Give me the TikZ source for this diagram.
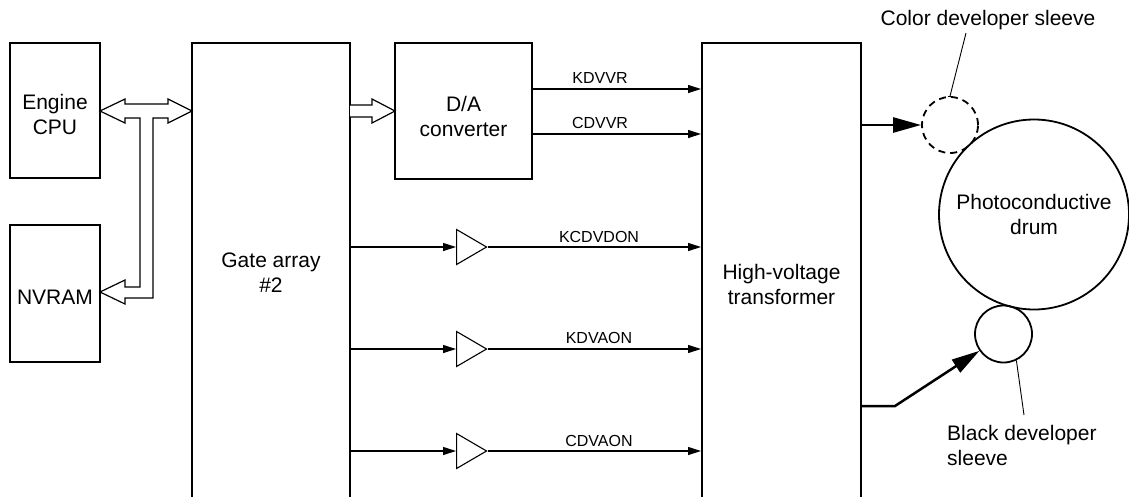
\documentclass[tikz,border=0pt]{standalone}
\usepackage{fontspec}
\setmainfont{Liberation Sans}
\usetikzlibrary{arrows.meta,shapes.geometric}
\begin{document}
\begin{tikzpicture}[x=1pt,y=-1pt,
 box/.style={draw, line width=2pt, rectangle, inner sep=0pt},
 lbl/.style={font=\fontsize{21}{25}\selectfont, inner sep=0pt, align=center},
 sig/.style={line width=1.1pt, -{Triangle[length=13pt,width=8pt]}},
 siglabel/.style={font=\fontsize{16}{19}\selectfont, inner sep=0pt},
 buf/.style={draw, line width=1.1pt, isosceles triangle, isosceles triangle stretches, shape border rotate=0, minimum width=35pt, minimum height=30pt, inner sep=0pt},
 big/.style={line width=2.5pt, -{Triangle[length=28pt,width=15pt]}},
 hollow/.style={draw, line width=1.2pt, fill=white, line join=miter},
 leader/.style={line width=0.9pt},
 ring/.style={draw, circle, line width=1.8pt, inner sep=0pt}]
\useasboundingbox (0,0) rectangle (1129,496);

% boxes
\node[box, minimum width=90pt, minimum height=135pt] (cpu) at (55,110.5) {};
\node[lbl] (cput) at (55,114.5) {Engine\\CPU};
\node[box, minimum width=90pt, minimum height=137pt] (nvram) at (55,293.5) {};
\node[lbl] (nvramt) at (55,297) {NVRAM};
\node[box, minimum width=158pt, minimum height=457pt] (gate) at (271,271.5) {};
\node[lbl] (gatet) at (271,272.5) {Gate array\\\#2};
\node[box, minimum width=137pt, minimum height=136pt] (da) at (463.5,111) {};
\node[lbl] (dat) at (463.5,116) {D/A\\converter};
\node[box, minimum width=159pt, minimum height=457pt] (hv) at (781.5,271.5) {};
\node[lbl] (hvt) at (781.5,284.5) {High-voltage\\transformer};

% hollow buses
\draw[hollow] (100,111) -- (125,99) -- (125,104) -- (168,104) -- (168,99) -- (192,111) -- (168,123) -- (168,118) -- (153,118) -- (153,298) -- (125,298) -- (125,304) -- (100,292) -- (125,280) -- (125,287) -- (140,287) -- (140,118) -- (125,118) -- (125,123) -- cycle;
\draw[hollow] (350,105) -- (372,105) -- (372,99) -- (395,111) -- (372,123) -- (372,117) -- (350,117);

% D/A outputs
\coordinate (s1) at (532,89);
\coordinate (s2) at (532,134);
\draw[sig] (s1) -- (hv.west |- s1);
\draw[sig] (s2) -- (hv.west |- s2);
\node[siglabel] (l1) at (600,78) {KDVVR};
\node[siglabel] (l2) at (600,123) {CDVVR};

% buffers
\node[buf, anchor=lower side] (b1) at (456,247) {};
\node[buf, anchor=lower side] (b2) at (456,349) {};
\node[buf, anchor=lower side] (b3) at (456,451) {};
\draw[sig] (gate.east |- b1.lower side) -- (b1.lower side);
\draw[sig] (gate.east |- b2.lower side) -- (b2.lower side);
\draw[sig] (gate.east |- b3.lower side) -- (b3.lower side);
\draw[sig] (b1.apex) -- (hv.west |- b1.apex);
\draw[sig] (b2.apex) -- (hv.west |- b2.apex);
\draw[sig] (b3.apex) -- (hv.west |- b3.apex);
\node[siglabel] (l3) at (599,237) {KCDVDON};
\node[siglabel] (l4) at (599,338) {KDVAON};
\node[siglabel] (l5) at (599,441) {CDVAON};

% drum and sleeves
\node[ring, minimum size=190pt, lbl] (drum) at (1034,214.5) {Photoconductive\\drum};
\node[ring, dashed, dash pattern=on 7pt off 5pt, minimum size=56pt] (cs) at (950,125) {};
\node[ring, minimum size=57pt] (bs) at (1003.5,334) {};

\draw[big] (hv.east |- cs.west) -- (cs.west);
\coordinate (bend) at (895,406);
\draw[big] (hv.east |- bend) -- (bend) -- (bs.215);

% leaders and labels
\node[lbl] (cslbl) at (988,20) {Color developer sleeve};
\coordinate (csl) at (966,33);
\draw[leader] (csl) -- (cs.north);
\draw[leader] ([xshift=-2.5pt]cs.north) -- ([xshift=2.5pt]cs.north);
\node[lbl, align=left, anchor=west] (bslbl) at (947,445) {Black developer\\sleeve};
\coordinate (bsl) at (1024,415);
\draw[leader] (bs.-64) -- (bsl);
\end{tikzpicture}
\end{document}
